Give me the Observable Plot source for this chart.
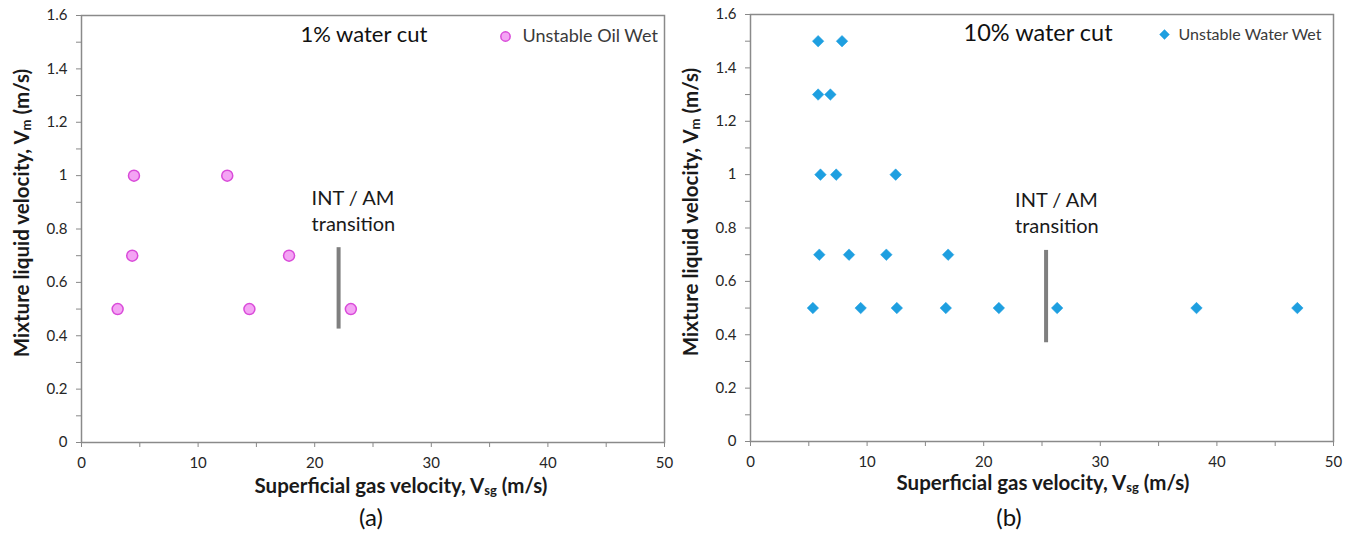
<!DOCTYPE html>
<html><head><meta charset="utf-8">
<script src="https://cdn.jsdelivr.net/npm/d3@7"></script>
<script src="https://cdn.jsdelivr.net/npm/@observablehq/plot@0.6"></script>
<style>
body{margin:0;background:#fff;}
#wrap{position:relative;width:1352px;height:535px;overflow:hidden;font-family:Lato,sans-serif;}
.panel{position:absolute;top:0;}
</style></head><body><div id="wrap"></div>
<script>
// ---- data ----
const yMajor = [0, 0.2, 0.4, 0.6, 0.8, 1.0, 1.2, 1.4, 1.6];
const yMinor = [0.1, 0.3, 0.5, 0.7, 0.9, 1.1, 1.3, 1.5];
const xMajor = [0, 10, 20, 30, 40, 50];
const xMinor = [5, 15, 25, 35, 45];

// panel (a): 1% water cut, Unstable Oil Wet
const oilX = [3.1, 4.5, 4.35, 12.5, 14.4, 17.8, 23.1];
const oilY = [0.5, 1.0, 0.7, 1.0, 0.5, 0.7, 0.5];
// panel (b): 10% water cut, Unstable Water Wet
const waterX = [5.8, 7.85, 5.8, 6.85, 6.0, 7.35, 12.45, 5.9, 8.45, 11.65, 16.95, 5.35, 9.45, 12.55, 16.75, 21.3, 26.3, 38.25, 46.9];
const waterY = [1.5, 1.5, 1.3, 1.3, 1.0, 1.0, 1.0, 0.7, 0.7, 0.7, 0.7, 0.5, 0.5, 0.5, 0.5, 0.5, 0.5, 0.5, 0.5];
// INT / AM transition markers
const transX = [22.05, 25.35];
const transY1 = [0.425, 0.37];
const transY2 = [0.73, 0.716];

const titles = ["1% water cut", "10% water cut"];
const legends = ["Unstable Oil Wet", "Unstable Water Wet"];
const captions = ["(a)", "(b)"];
const annotation = "INT / AM\ntransition";

const fmt = d => String(+d.toFixed(1));

function makePanel(c) {
  const pts = c.xs.map((x, i) => ({x, y: c.ys[i]}));
  const tr = {x: transX[c.i], y1: transY1[c.i], y2: transY2[c.i]};
  const svg = Plot.plot({
    width: 676, height: 535,
    marginLeft: c.ml, marginRight: c.mr, marginTop: c.mt, marginBottom: c.mb,
    style: {fontFamily: "Lato, sans-serif", background: "transparent", overflow: "visible"},
    x: {domain: [0, 50]},
    y: {domain: [0, 1.6]},
    marks: [
      Plot.axisY({ticks: yMajor, tickSize: 5, tickPadding: 9, tickFormat: fmt, fontSize: 15, fill: "#262626", stroke: "#888", label: null}),
      Plot.axisY({ticks: yMinor, tickSize: 5, text: null, stroke: "#888", label: null}),
      Plot.axisX({ticks: xMajor, tickSize: 5, tickPadding: 10, tickFormat: fmt, fontSize: 15, fill: "#262626", stroke: "#888", label: null}),
      Plot.axisX({ticks: xMinor, tickSize: 5, text: null, stroke: "#888", label: null}),
      Plot.frame({stroke: "#8a8a8a", strokeWidth: 1.5}),
      Plot.ruleX([tr], {x: "x", y1: "y1", y2: "y2", stroke: "#7f7f7f", strokeWidth: 4}),
      Plot.text([annotation], {x: () => tr.x, y: () => tr.y2, text: d => d, dx: c.annDx, dy: -17, textAnchor: "start", lineAnchor: "bottom", fontSize: 20, lineHeight: 1.3, fill: "#1a1a1a"}),
      Plot.dot(pts, {x: "x", y: "y", r: c.r, symbol: c.symbol, fill: c.fill, stroke: c.stroke, strokeWidth: c.sw}),
      Plot.text([titles[c.i]], {frameAnchor: "top-left", text: d => d, dx: c.titleDx, dy: c.titleDy, textAnchor: "start", lineAnchor: "middle", fontSize: c.titleFs, fill: "#111"}),
      Plot.dot([legends[c.i]], {frameAnchor: "top-left", dx: c.legDx, dy: c.legDy, r: c.r * 0.85, symbol: c.symbol, fill: c.fill, stroke: c.stroke, strokeWidth: c.sw}),
      Plot.text([legends[c.i]], {frameAnchor: "top-left", text: d => d, dx: c.legTx, dy: c.legDy, textAnchor: "start", lineAnchor: "middle", fontSize: c.legFs, fill: "#3a3a3a"})
    ]
  });
  const s = d3.select(svg);
  // y-axis title
  const yt = s.append("text")
    .attr("transform", `translate(${c.ytx},${c.yty}) rotate(-90)`)
    .attr("text-anchor", "middle").attr("dominant-baseline", "middle")
    .attr("font-weight", "bold").attr("font-size", 20.5).attr("fill", "#1a1a1a");
  yt.append("tspan").text("Mixture liquid velocity, V");
  yt.append("tspan").attr("dy", 4).attr("font-size", 13).text("m");
  yt.append("tspan").attr("dy", -4).text(" (m/s)");
  // x-axis title
  const xt = s.append("text")
    .attr("x", c.xtx).attr("y", c.xty)
    .attr("text-anchor", "middle").attr("dominant-baseline", "middle")
    .attr("font-weight", "bold").attr("font-size", 20.5).attr("fill", "#1a1a1a");
  xt.append("tspan").text("Superficial gas velocity, V");
  xt.append("tspan").attr("dy", 4).attr("font-size", 13).text("sg");
  xt.append("tspan").attr("dy", -4).text(" (m/s)");
  // caption
  s.append("text").attr("x", c.capx).attr("y", 520)
    .attr("text-anchor", "middle").attr("dominant-baseline", "middle")
    .attr("font-size", 24).attr("fill", "#111").text(captions[c.i]);
  svg.classList.add("panel");
  svg.style.left = c.left + "px";
  return svg;
}

const wrap = document.getElementById("wrap");
wrap.appendChild(makePanel({
  i: 0, left: 0, xs: oilX, ys: oilY,
  ml: 81, mr: 12, mt: 15, mb: 93,
  symbol: "circle", r: 5.5, fill: "#f4a4f4", stroke: "#d94bd9", sw: 1.5,
  annDx: -27, titleDx: 219, titleDy: 19, titleFs: 22, legDx: 424, legDy: 21, legTx: 441, legFs: 18,
  ytx: 24, yty: 213, xtx: 401, xty: 488, capx: 371
}));
wrap.appendChild(makePanel({
  i: 1, left: 676, xs: waterX, ys: waterY,
  ml: 74, mr: 19, mt: 14, mb: 94,
  symbol: "diamond2", r: 5.2, fill: "#1e9fe0", stroke: "#1e9fe0", sw: 0.5,
  annDx: -31, titleDx: 213, titleDy: 19, titleFs: 23.5, legDx: 414, legDy: 20, legTx: 428, legFs: 16,
  ytx: 17, yty: 212, xtx: 367, xty: 485, capx: 333
}));
</script>
</body></html>
